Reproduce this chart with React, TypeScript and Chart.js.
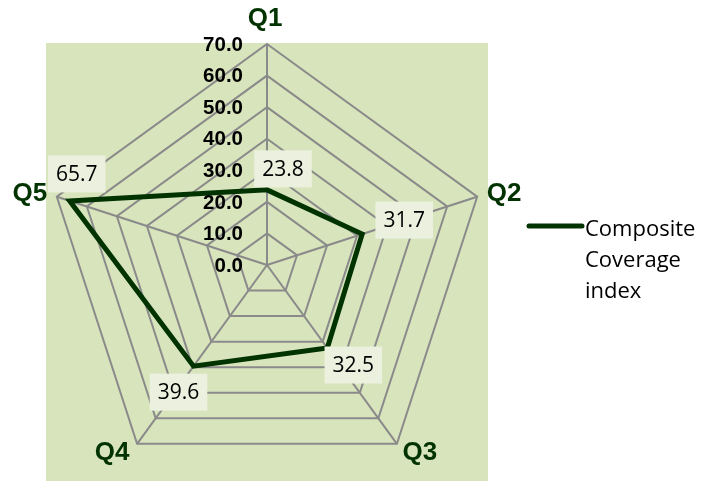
import React, { useEffect, useRef } from 'react';
import { Chart, registerables } from 'chart.js';

Chart.register(...registerables);

// ---- data ----
const categories = ['Q1', 'Q2', 'Q3', 'Q4', 'Q5'];
const seriesName = 'Composite Coverage index';
const values = [23.8, 31.7, 32.5, 39.6, 65.7];
const scaleMin = 0;
const scaleMax = 70;
const scaleStep = 10;

// ---- styles / layout ----
const PLOT_BG = '#d8e4bc';
const LINE_COLOR = '#003300';
const GRID_COLOR = '#8a8a8a';
const LABEL_BG = '#ebf1de';
const CX = 267;
const CY = 265;
const RADIUS = 221;
const PLOT_RECT = { left: 46, top: 43, right: 488, bottom: 481 };
const CAT_NUDGE = [[-2, -25], [27, -3], [23, 9], [-25, 9], [-27, -3]];
const VAL_NUDGE = [[16, -21], [42, -14], [26, 17], [-15, 26], [7, -27]];

const decorPlugin = {
  id: 'decor',
  beforeDraw(chart: any) {
    const ctx = chart.ctx;
    ctx.save();
    ctx.fillStyle = PLOT_BG;
    ctx.fillRect(PLOT_RECT.left, PLOT_RECT.top, PLOT_RECT.right - PLOT_RECT.left, PLOT_RECT.bottom - PLOT_RECT.top);
    ctx.restore();
  },
  afterDatasetsDraw(chart: any) {
    const ctx = chart.ctx;
    const s = chart.scales.r;
    ctx.save();

    // tick labels
    ctx.font = 'bold 20.5px "Liberation Sans", Arial, sans-serif';
    ctx.fillStyle = '#000000';
    ctx.textAlign = 'right';
    ctx.textBaseline = 'middle';
    s.ticks.forEach((t: any) => {
      const d = s.getDistanceFromCenterForValue(t.value);
      ctx.fillText(Number(t.value).toFixed(1), s.xCenter - 24, s.yCenter - d + 1);
    });

    // category labels
    ctx.font = 'bold 26px "Liberation Sans", Arial, sans-serif';
    ctx.fillStyle = LINE_COLOR;
    ctx.textAlign = 'center';
    ctx.textBaseline = 'middle';
    chart.data.labels.forEach((lab: string, i: number) => {
      const p = s.getPointPosition(i, s.drawingArea);
      ctx.fillText(lab, p.x + CAT_NUDGE[i][0], p.y + CAT_NUDGE[i][1]);
    });

    // value labels
    const meta = chart.getDatasetMeta(0);
    const ds = chart.data.datasets[0];
    ctx.font = '21px "Open Sans", sans-serif';
    meta.data.forEach((el: any, i: number) => {
      const txt = Number(ds.data[i]).toFixed(1);
      const w = ctx.measureText(txt).width + 16;
      const h = 37;
      const cx = el.x + VAL_NUDGE[i][0];
      const cy = el.y + VAL_NUDGE[i][1];
      ctx.fillStyle = LABEL_BG;
      ctx.fillRect(cx - w / 2, cy - h / 2, w, h);
      ctx.fillStyle = '#000000';
      ctx.textAlign = 'center';
      ctx.textBaseline = 'middle';
      ctx.fillText(txt, cx, cy + 1);
    });

    ctx.restore();
  },
  afterDraw(chart: any) {
    const ctx = chart.ctx;
    const ds = chart.data.datasets[0];
    ctx.save();
    ctx.strokeStyle = ds.borderColor;
    ctx.lineWidth = 5;
    ctx.lineCap = 'round';
    ctx.beginPath();
    ctx.moveTo(529, 226);
    ctx.lineTo(582, 226);
    ctx.stroke();
    ctx.font = '22px "Open Sans", sans-serif';
    ctx.fillStyle = '#000000';
    ctx.textAlign = 'left';
    ctx.textBaseline = 'alphabetic';
    String(ds.label).split(' ').forEach((line: string, i: number) => {
      ctx.fillText(line, 585, 236 + i * 31);
    });
    ctx.restore();
  },
};

export default function App() {
  const ref = useRef<HTMLCanvasElement>(null);
  useEffect(() => {
    if (!ref.current) return;
    const chart = new Chart(ref.current, {
      type: 'radar',
      data: {
        labels: categories,
        datasets: [
          {
            label: seriesName,
            data: values,
            borderColor: LINE_COLOR,
            borderWidth: 5,
            borderJoinStyle: 'miter',
            fill: false,
            pointRadius: 0,
            pointHoverRadius: 0,
            tension: 0,
          } as any,
        ],
      },
      options: {
        responsive: false,
        animation: false,
        events: [],
        plugins: { legend: { display: false }, tooltip: { enabled: false } },
        scales: {
          r: {
            min: scaleMin,
            max: scaleMax,
            ticks: { stepSize: scaleStep, display: false },
            pointLabels: { display: false },
            grid: { color: GRID_COLOR, lineWidth: 2 },
            angleLines: { color: GRID_COLOR, lineWidth: 2 },
            afterFit: (s: any) => {
              s.xCenter = CX;
              s.yCenter = CY;
              s.drawingArea = RADIUS;
            },
          } as any,
        },
      },
      plugins: [decorPlugin],
    });
    return () => chart.destroy();
  }, []);
  return (
    <div style={{ position: 'fixed', left: 0, top: 0, width: 702, height: 483, background: '#ffffff' }}>
      <canvas ref={ref} width={702} height={483} style={{ display: 'block' }} />
    </div>
  );
}
